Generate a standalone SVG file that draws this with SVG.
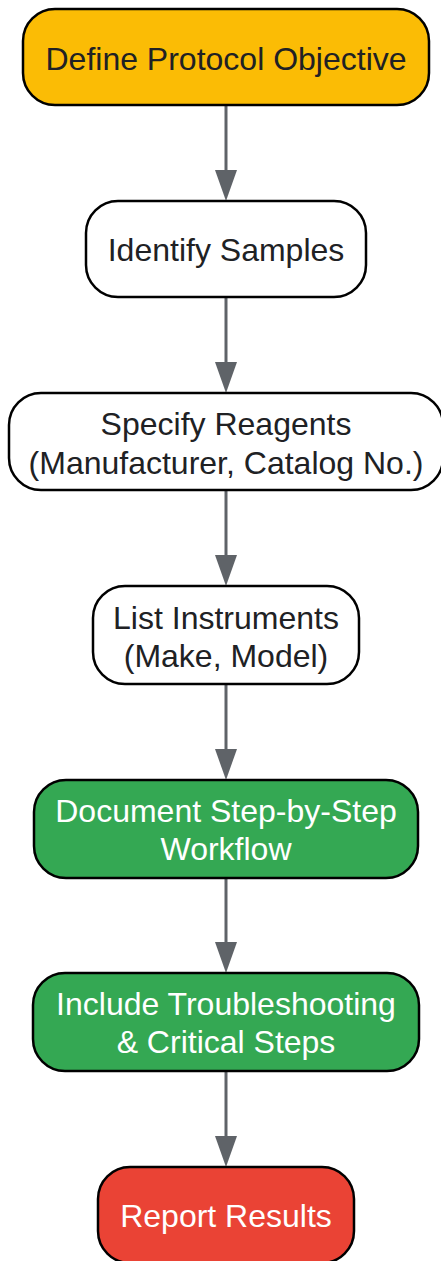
<svg xmlns="http://www.w3.org/2000/svg" width="441" height="1261" viewBox="0 0 441 1261">
<style>
.n rect{stroke:#000;stroke-width:2.5}
text{font-family:"Liberation Sans",Arial,sans-serif;font-size:32px;text-anchor:middle}
.dk{fill:#202124}
.lt{fill:#ffffff}
.ln{stroke:#5f6368;stroke-width:3;fill:none}
.hd{fill:#5f6368}
</style>
<g id="edges">
<path class="ln" d="M226,105 V171"/>
<path class="hd" d="M215,170 H237 L226,201 Z"/>
<path class="ln" d="M226,297 V363"/>
<path class="hd" d="M215,362 H237 L226,393 Z"/>
<path class="ln" d="M226,490 V556"/>
<path class="hd" d="M215,555 H237 L226,586 Z"/>
<path class="ln" d="M226,684 V750"/>
<path class="hd" d="M215,749 H237 L226,780 Z"/>
<path class="ln" d="M226,878 V943"/>
<path class="hd" d="M215,942 H237 L226,973 Z"/>
<path class="ln" d="M226,1071 V1137"/>
<path class="hd" d="M215,1136 H237 L226,1167 Z"/>
</g>
<g id="n1" class="n">
<rect x="23" y="9" width="406" height="96" rx="32" fill="#FBBC05"/>
<text x="226" y="69.5" class="dk">Define Protocol Objective</text>
</g>
<g id="n2" class="n">
<rect x="86" y="201" width="280" height="96" rx="32" fill="#ffffff"/>
<text x="226" y="261" class="dk">Identify Samples</text>
</g>
<g id="n3" class="n">
<rect x="9" y="393" width="434" height="97" rx="32" fill="#ffffff"/>
<text x="226" y="434.5" class="dk">Specify Reagents</text>
<text x="226" y="473.5" class="dk">(Manufacturer, Catalog No.)</text>
</g>
<g id="n4" class="n">
<rect x="93" y="586" width="266" height="98" rx="32" fill="#ffffff"/>
<text x="226" y="628.5" class="dk">List Instruments</text>
<text x="226" y="667" class="dk">(Make, Model)</text>
</g>
<g id="n5" class="n">
<rect x="34" y="780" width="384" height="98" rx="32" fill="#34A853"/>
<text x="226" y="822" class="lt">Document Step-by-Step</text>
<text x="226" y="860" class="lt">Workflow</text>
</g>
<g id="n6" class="n">
<rect x="33" y="973" width="386" height="98" rx="32" fill="#34A853"/>
<text x="226" y="1015" class="lt">Include Troubleshooting</text>
<text x="226" y="1053" class="lt">&amp; Critical Steps</text>
</g>
<g id="n7" class="n">
<rect x="98" y="1167" width="256" height="96" rx="32" fill="#EA4335"/>
<text x="226" y="1227" class="lt">Report Results</text>
</g>
</svg>
